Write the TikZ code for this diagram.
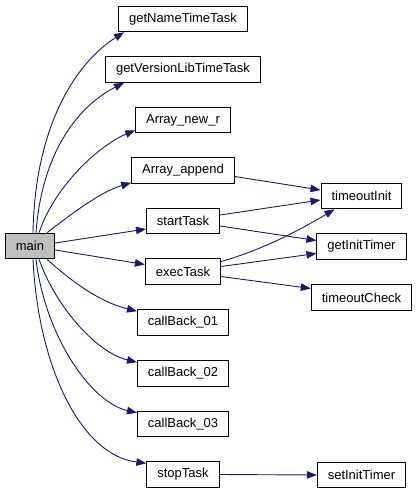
\documentclass[tikz,border=0pt]{standalone}
\usepackage{fontspec}
\setmainfont{Liberation Sans}
\usetikzlibrary{arrows.meta}
\definecolor{edgeblue}{HTML}{191970}
\definecolor{maingray}{HTML}{BFBFBF}
\begin{document}
\begin{tikzpicture}[x=1pt,y=-1pt,
  fn/.style={draw=black,line width=1pt,fill=white,inner xsep=10.5pt,inner ysep=0pt,minimum height=25.5pt,font=\fontsize{13}{15}\selectfont},
  call/.style={draw=edgeblue,line width=0.9pt,-{Triangle[length=10pt,width=7.5pt]}}]
\useasboundingbox (0,0) rectangle (419,493);
\node[fn,fill=maingray] (main) at (30,246) {main};
\node[fn] (gnt) at (183,19) {getNameTimeTask};
\node[fn] (gvl) at (183,69.5) {getVersionLibTimeTask};
\node[fn] (anr) at (183,120) {Array\_new\_r};
\node[fn] (aap) at (183,170.5) {Array\_append};
\node[fn] (st) at (183,221) {startTask};
\node[fn] (ex) at (183,271.5) {execTask};
\node[fn] (cb1) at (183,322.5) {callBack\_01};
\node[fn] (cb2) at (183,373.5) {callBack\_02};
\node[fn] (cb3) at (183,424) {callBack\_03};
\node[fn] (sp) at (183,474.5) {stopTask};
\node[fn] (ti) at (361.5,196) {timeoutInit};
\node[fn] (git) at (361.5,246.5) {getInitTimer};
\node[fn] (tc) at (361.5,297.5) {timeoutCheck};
\node[fn] (sit) at (361.5,475) {setInitTimer};

\draw[call] ([xshift=3pt]main.north) .. controls (35,120) and (80,60) .. ([xshift=6pt]gnt.south west);
\draw[call] ([xshift=6pt]main.north) .. controls (42,150) and (80,105) .. ([xshift=19pt]gvl.south west);
\draw[call] ([xshift=9pt]main.north) .. controls (55,185) and (100,145) .. ([yshift=3pt]anr.south west);
\draw[call] ([xshift=17pt]main.north) .. controls (70,215) and (100,192) .. ([yshift=1pt]aap.south west);
\draw[call] ([yshift=3pt]main.east) -- ([yshift=-8pt]st.west);
\draw[call] ([yshift=-4pt]main.east) -- ([yshift=7pt]ex.west);
\draw[call] ([xshift=17pt]main.south) .. controls (72,282) and (100,302) .. ([yshift=-2pt]cb1.north west);
\draw[call] ([xshift=9pt]main.south) .. controls (55,305) and (95,352) .. ([yshift=-2pt]cb2.north west);
\draw[call] ([xshift=6pt]main.south) .. controls (45,335) and (90,402) .. ([yshift=-2pt]cb3.north west);
\draw[call] ([xshift=3pt]main.south) .. controls (38,365) and (80,455) .. ([yshift=-2pt]sp.north west);

\draw[call] ([yshift=-6pt]aap.east) -- ([yshift=6pt]ti.west);
\draw[call] ([yshift=6pt]st.east) -- ([yshift=-4pt]ti.west);
\draw[call] ([yshift=-5pt]st.east) -- ([yshift=6pt]git.west);
\draw[call] ([yshift=10pt]ex.east) .. controls (262,250) and (300,230) .. ([xshift=-27pt]ti.south);
\draw[call] ([yshift=5pt]ex.east) -- ([yshift=-7pt]git.west);
\draw[call] ([yshift=-5pt]ex.east) -- ([yshift=9pt]tc.west);
\draw[call] (sp.east) -- (sit.west);
\end{tikzpicture}
\end{document}
